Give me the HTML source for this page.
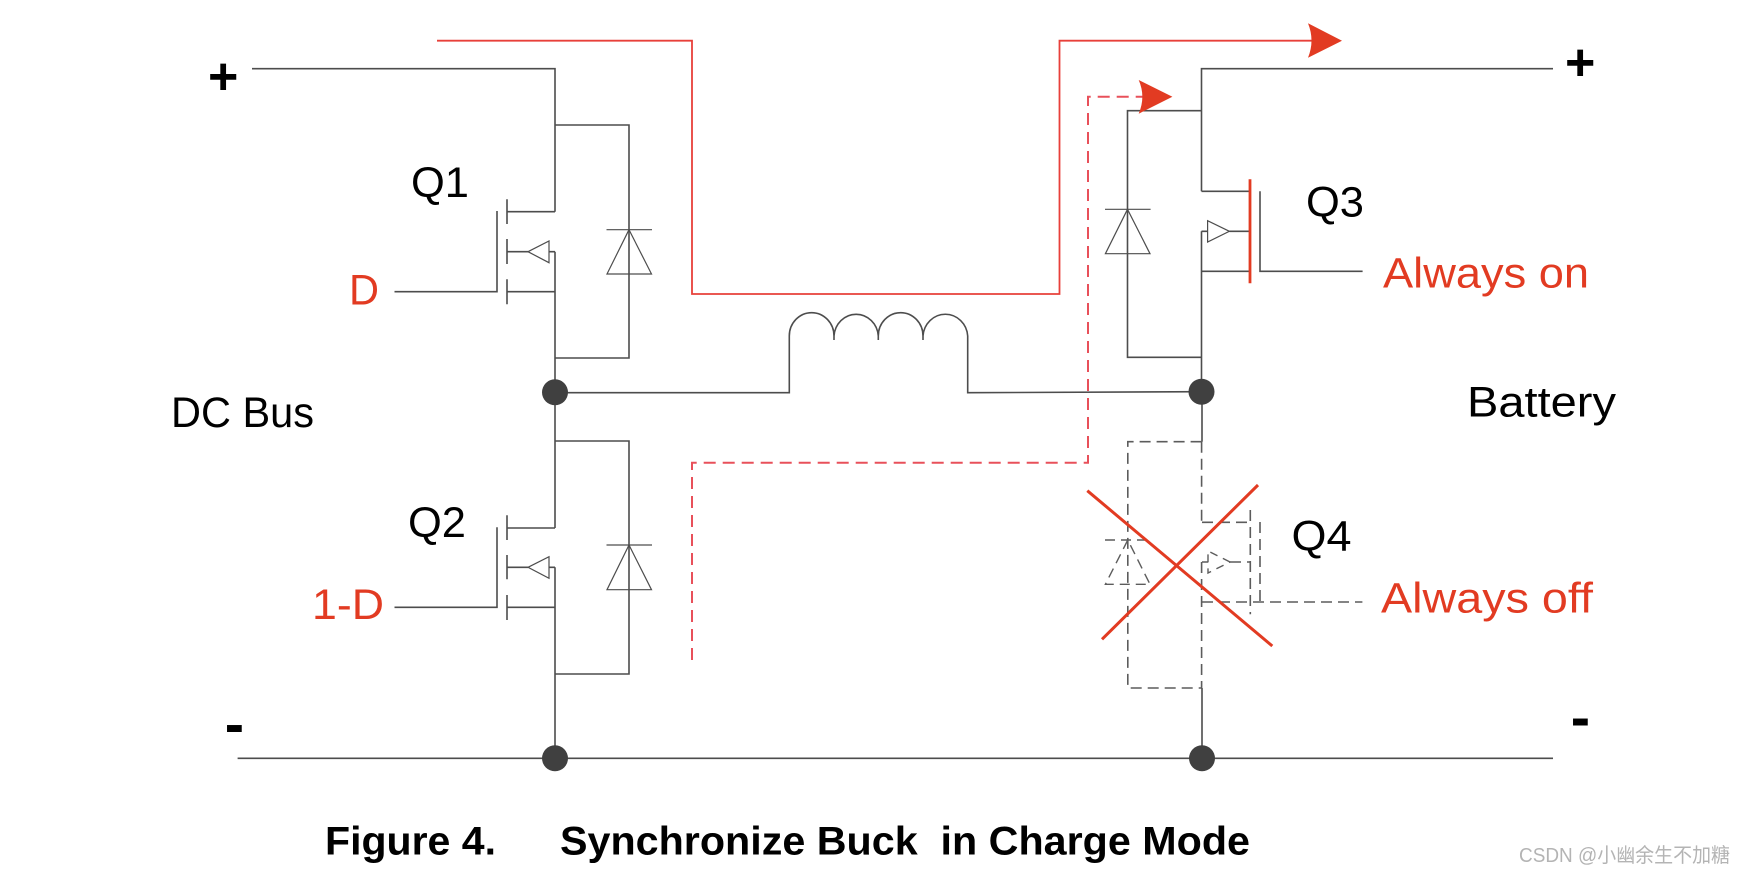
<!DOCTYPE html>
<html><head><meta charset="utf-8"><style>
html,body{margin:0;padding:0;background:#fff;width:1746px;height:874px;overflow:hidden}
svg{display:block}
text{font-family:"Liberation Sans","Noto Sans CJK SC",sans-serif;white-space:pre}
.l{font-size:43px;fill:#000}
.r{font-size:43px;fill:#e23b22}
.w{fill:none;stroke:#4d4d4d;stroke-width:1.6}
.t{fill:none;stroke:#4d4d4d;stroke-width:1.2}
.d{fill:none;stroke:#5c5c5c;stroke-width:1.6;stroke-dasharray:11 6}
.n{fill:#404040}
</style></head><body>
<svg width="1746" height="874" viewBox="0 0 1746 874" xmlns="http://www.w3.org/2000/svg">
<rect width="1746" height="874" fill="#fff"/>

<!-- red current paths -->
<path d="M437 40.7H692V294H1059.5V40.7H1315" fill="none" stroke="#e8403a" stroke-width="1.8"/>
<path d="M692 660V462.7H1088V96.7H1145" fill="none" stroke="#e8505a" stroke-width="2" stroke-dasharray="12 7"/>

<!-- main wires -->
<path class="w" d="M252 68.7H555V211.7M555 251.7V528M555 567.3V758M555 125H629V358H555"/>
<path class="w" d="M1553 68.7H1201.5V191.3M1201.5 231.3V392M1201.5 110.7H1127.5V357.3H1201.5"/>
<path class="w" d="M555 392.7H789.3V336M967.7 336V392.7L1201.5 391.7"/>
<path class="w" d="M789.3 336A22.3 23.3 0 0 1 834 336V340M834 336A22.2 23.3 0 0 1 878.3 336V340M878.3 336A22.3 23.3 0 0 1 923 336V340M923 336A22.4 23.3 0 0 1 967.7 336"/>
<path class="w" d="M237.6 758.3H1553"/>
<path class="w" d="M1202 392V441.7M1202 688V758"/>

<!-- Q1 -->
<path class="w" d="M394.5 291.7H497V211M507 199.3V224M507 239V264M507 279.3V304.3M507 211.7H555M507 291.7H555M507 251.7H528M549 251.7H555"/>
<path class="t" d="M528 251.7L549 241V262.7Z"/>
<path class="t" d="M606.5 229.7H652M629 229.7L607 274H651.5Z"/>

<!-- Q2 -->
<path class="w" d="M394.5 607.3H497V527.3M507 515.3V540M507 555V579.3M507 595V620M507 528H555M507 607.3H555M507 567.3H528M549 567.3H555"/>
<path class="t" d="M528 567.3L549 556.7V578.3Z"/>
<path class="w" d="M555 441H629V674H555"/>
<path class="t" d="M606.5 545H652M629 545L607 589.7H651.5Z"/>

<!-- Q3 -->
<path class="w" d="M1201.5 191.3H1250M1201.5 271.3H1250M1260 191.3V271.3H1362.6M1229.4 231.3H1250M1207.6 231.3H1201.5"/>
<path d="M1250 179.3V283.3" fill="none" stroke="#e23b22" stroke-width="2.8"/>
<path class="t" d="M1229.4 231.3L1207.6 220.7V242Z"/>
<path class="t" d="M1105 209.3H1150.6M1127.5 209.3L1105.4 253.7H1150Z"/>

<!-- Q4 dashed -->
<path class="d" d="M1201.6 441.7H1127.8V688H1201.6M1201.6 441.7V522.3M1201.6 562V688"/>
<path class="d" d="M1202 522.3H1250.3M1250.3 510V614.3M1260 522V602M1202 602H1362.4M1230 562H1250M1208 562H1202"/>
<path d="M1230 562L1208 551V573Z" fill="none" stroke="#5c5c5c" stroke-width="1.4" stroke-dasharray="8 6"/>
<path d="M1105 540H1150M1127.8 540L1105.4 584.3H1150Z" fill="none" stroke="#5c5c5c" stroke-width="1.4" stroke-dasharray="10 6"/>

<!-- red X -->
<path d="M1087.3 490.7L1272.3 646M1258 485L1102 639.3" fill="none" stroke="#e23b22" stroke-width="3"/>

<!-- arrowheads -->
<path d="M1342 40.7L1308 23.3Q1315 40.7 1308 57.7Z" fill="#e23b22"/>
<path d="M1172.4 96.7L1138.7 80Q1146 96.7 1138.7 113.7Z" fill="#e23b22"/>

<!-- nodes -->
<circle class="n" cx="555" cy="392.3" r="13"/>
<circle class="n" cx="1201.5" cy="391.7" r="13"/>
<circle class="n" cx="555" cy="758.3" r="13"/>
<circle class="n" cx="1202" cy="758.3" r="13"/>

<!-- labels -->
<text class="l" x="411" y="197" textLength="58" lengthAdjust="spacingAndGlyphs">Q1</text>
<text class="r" x="349" y="304.7" textLength="30" lengthAdjust="spacingAndGlyphs">D</text>
<text class="l" x="171" y="427" textLength="143" lengthAdjust="spacingAndGlyphs">DC Bus</text>
<text class="l" x="408" y="537" textLength="58" lengthAdjust="spacingAndGlyphs">Q2</text>
<text class="r" x="312" y="619" textLength="72" lengthAdjust="spacingAndGlyphs">1-D</text>
<text class="l" x="1306" y="216.7" textLength="58" lengthAdjust="spacingAndGlyphs">Q3</text>
<text class="r" x="1383" y="287.3" textLength="206" lengthAdjust="spacingAndGlyphs">Always on</text>
<text class="l" x="1467" y="416.7" textLength="149" lengthAdjust="spacingAndGlyphs">Battery</text>
<text class="l" x="1291.5" y="550.7" textLength="60" lengthAdjust="spacingAndGlyphs">Q4</text>
<text class="r" x="1381" y="612.3" textLength="212" lengthAdjust="spacingAndGlyphs">Always off</text>

<text x="208" y="94" font-size="52" font-weight="700" fill="#000">+</text>
<text x="1565" y="80" font-size="52" font-weight="700" fill="#000">+</text>
<text x="224.7" y="743.7" font-size="58" font-weight="700" fill="#000">-</text>
<text x="1570.7" y="737" font-size="58" font-weight="700" fill="#000">-</text>

<text x="325" y="854.3" font-size="40" font-weight="700" fill="#000" textLength="171" lengthAdjust="spacingAndGlyphs">Figure 4.</text>
<text x="560" y="854.3" font-size="40" font-weight="700" fill="#000" textLength="690" lengthAdjust="spacingAndGlyphs">Synchronize Buck  in Charge Mode</text>

<text x="1519" y="862" font-size="20" fill="#b4b4b4" textLength="211" lengthAdjust="spacingAndGlyphs">CSDN @小幽余生不加糖</text>
</svg>
</body></html>
